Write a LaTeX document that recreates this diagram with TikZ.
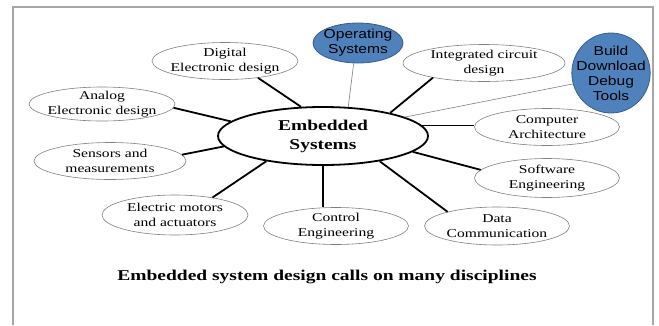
\documentclass[tikz,border=0pt]{standalone}
\usepackage{fontspec}
\setmainfont{Liberation Serif}[FakeStretch=1.3]
\setsansfont{Liberation Sans}[FakeStretch=1.2]
\usetikzlibrary{shapes,positioning}
\definecolor{toolblue}{HTML}{4F81BD}
\definecolor{tooledge}{HTML}{385D8A}

\begin{document}
\begin{tikzpicture}[x=1pt,y=-1pt]
	\tikzset{discipline/.style={ellipse,draw=gray,line width=0.6pt,inner xsep=-6pt,inner ysep=-2pt,minimum width=146pt,minimum height=37pt,align=center,font=\fontsize{12}{15}\selectfont}}
	\tikzset{tool/.style={ellipse,draw=tooledge,fill=toolblue,line width=0.8pt,inner xsep=-7pt,inner ysep=-2pt,align=center,font=\sffamily\fontsize{13}{15}\selectfont}}
	\tikzset{link/.style={line width=1.8pt}}
	\tikzset{thinlink/.style={gray,line width=0.6pt}}
	\useasboundingbox (0,0) rectangle (659,325);

	%% page frame
	\draw[gray!70,line width=1.5pt] (13,325) -- (13,7) -- (653,7) -- (653,325);

	\node[ellipse,draw,line width=1.8pt,minimum width=210pt,minimum height=58pt,inner sep=0pt,align=center,font=\bfseries\fontsize{15}{19}\selectfont] (emb) at (323,136) {Embedded\\Systems};
	\node[tool,minimum width=90pt,minimum height=40pt] (os) at (358,43) {Operating\\Systems};
	\node[tool,minimum width=78pt,minimum height=80pt] (tools) at (611,73) {Build\\Download\\Debug\\Tools};
	\node[discipline] (digital) at (225,61) {Digital\\Electronic design};
	\node[discipline,minimum height=34pt] (analog) at (102,104) {Analog\\Electronic design};
	\node[discipline,minimum width=152pt] (sensors) at (110,161) {Sensors and\\measurements};
	\node[discipline,minimum height=40pt] (motors) at (175,215) {Electric motors\\and actuators};
	\node[discipline,minimum width=145pt] (control) at (336,226) {Control\\Engineering};
	\node[discipline,minimum width=145pt,minimum height=38pt] (datacom) at (497,226) {Data\\Communication};
	\node[discipline,minimum width=145pt,minimum height=39pt] (software) at (547,178) {Software\\Engineering};
	\node[discipline,minimum width=145pt] (computer) at (547,127) {Computer\\Architecture};
	\node[discipline,minimum width=162pt] (ic) at (484,63) {Integrated circuit\\design};

	\path[link]
		(digital.-27) edge (emb.127)
		(analog.-3) edge (emb.171)
		(sensors.5) edge (emb.186)
		(motors.25) edge (emb.204)
		(emb.south) edge (emb.south |- control.north)
		(emb.-24) edge (datacom.164)
		(emb.-10) edge (software.173)
		(emb.6) edge (emb.6 -| computer.west)
		(emb.19) edge (ic.196);
	\path[thinlink]
		(os.-102) edge (emb.49)
		(tools.196) edge (emb.13);

	\node[font=\bfseries\fontsize{15}{18}\selectfont] (caption) at (327,277) {Embedded system design calls on many disciplines};
\end{tikzpicture}
\end{document}
